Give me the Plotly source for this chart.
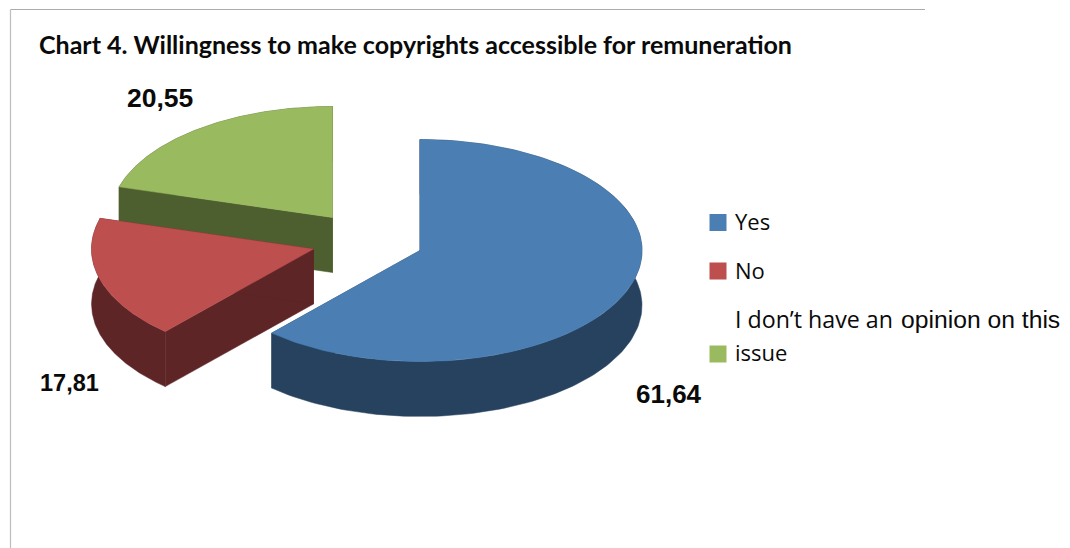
import numpy as np
import plotly.graph_objects as go

# Survey results, in percent
categories = ["Yes", "No", "I don’t have an opinion on this issue"]
values = [61.64, 17.81, 20.55]

top_colors = ["#4B7FB4", "#BD4F4E", "#9ABA60"]
wall_colors = ["#27425F", "#5E2527", "#4E5F2F"]

# Drawing parameters for the extruded, exploded pie
centers = [(420, 250.5), (313.5, 249), (332.5, 217.5)]
RX, RY, DEPTH = 222, 111, 55
label_pos = [(669, 394, 26), (69, 383, 23.5), (160, 98, 26.5)]
swatch_y = [222.5, 271, 354]

W, H = 1070, 548


def arc(c, a0, a1):
    t = np.radians(np.linspace(a0, a1, 160))
    return c[0] + RX * np.sin(t), c[1] - RY * np.cos(t)


def add_poly(fig, xs, ys, color):
    fig.add_trace(go.Scatter(
        x=np.append(xs, xs[0]), y=np.append(ys, ys[0]),
        mode="lines", fill="toself", fillcolor=color,
        line=dict(color=color, width=0.5),
        hoverinfo="skip", showlegend=False,
    ))


fig = go.Figure()

# Slice angles run clockwise from twelve o'clock
total = sum(values)
stops = np.concatenate([[0], np.cumsum(values)]) / total * 360
slices = [(i, stops[i], stops[i + 1]) for i in range(len(values))]

# Painter's order: rear slice first, front slice last
for i, a0, a1 in sorted(slices, key=lambda s: -s[0]):
    c = centers[i]
    ax, ay = arc(c, a0, a1)
    # outer wall
    add_poly(fig, np.r_[ax, ax[::-1]], np.r_[ay, ay[::-1] + DEPTH], wall_colors[i])
    # the two cut faces
    for ex, ey in [(ax[0], ay[0]), (ax[-1], ay[-1])]:
        add_poly(fig,
                 np.array([c[0], ex, ex, c[0]]),
                 np.array([c[1], ey, ey + DEPTH, c[1] + DEPTH]),
                 wall_colors[i])
    # top face
    add_poly(fig, np.r_[c[0], ax], np.r_[c[1], ay], top_colors[i])

# Legend swatches
fig.add_trace(go.Scatter(
    x=[718] * 3, y=swatch_y, mode="markers",
    marker=dict(symbol="square", size=17, color=top_colors, line=dict(width=0)),
    hoverinfo="skip", showlegend=False,
))

annotations = []


def text(x, y, s, size, family, anchor="left", bold=False):
    annotations.append(dict(
        x=x, y=y, xref="x", yref="y", text=f"<b>{s}</b>" if bold else s,
        showarrow=False, xanchor=anchor, yanchor="middle",
        font=dict(family=family, size=size, color="#0A0A0A"),
    ))


text(36.5, 44, "Chart 4. Willingness to make copyrights accessible for remuneration",
     25, "Lato", bold=True)

for v, (x, y, size) in zip(values, label_pos):
    text(x, y, f"{v:.2f}".replace(".", ","), size, "Liberation Sans", "center", True)

text(733, 221, categories[0], 22, "Open Sans")
text(733, 269.5, categories[1], 22, "Open Sans")
text(733, 319, "I don’t have an", 23.2, "Open Sans")
text(898.5, 319.5, "opinion on this", 24.7, "Liberation Sans")
text(733, 352, "issue", 22, "Open Sans")

fig.update_layout(
    width=W, height=H,
    margin=dict(l=0, r=0, t=0, b=0),
    paper_bgcolor="white", plot_bgcolor="white",
    xaxis=dict(range=[0, W], visible=False, fixedrange=True),
    yaxis=dict(range=[H, 0], visible=False, fixedrange=True),
    annotations=annotations,
    # chart frame: top and left edges only
    shapes=[
        dict(type="line", xref="x", yref="y", x0=10.5, x1=925, y0=9.5, y1=9.5,
             line=dict(color="#ABABAB", width=1.2)),
        dict(type="line", xref="x", yref="y", x0=10.5, x1=10.5, y0=9.5, y1=548,
             line=dict(color="#BDBDBD", width=1.2)),
    ],
    showlegend=False,
)

fig.write_html("out.html")
